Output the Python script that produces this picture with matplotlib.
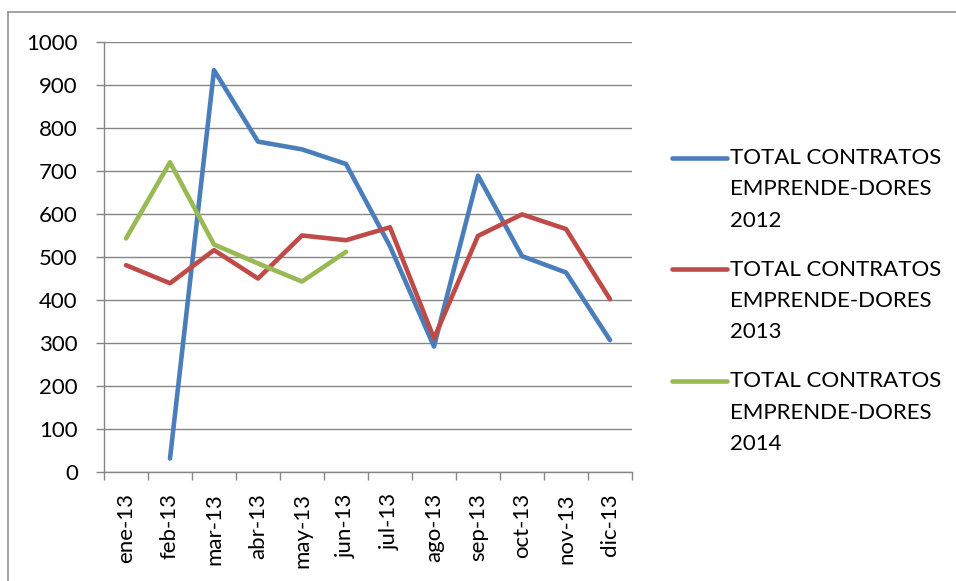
import numpy as np
import matplotlib
matplotlib.use("Agg")
import matplotlib.pyplot as plt
from matplotlib.lines import Line2D
from matplotlib.legend_handler import HandlerLine2D

plt.rcParams['font.family'] = ['Lato', 'DejaVu Sans']

# data
months = ['ene-13', 'feb-13', 'mar-13', 'abr-13', 'may-13', 'jun-13',
          'jul-13', 'ago-13', 'sep-13', 'oct-13', 'nov-13', 'dic-13']
total_2012 = [np.nan, 32, 934, 768, 750, 716, 525, 292, 689, 502, 464, 307]
total_2013 = [481, 439, 516, 450, 550, 539, 569, 311, 549, 599, 565, 402]
total_2014 = [543, 720, 529, 485, 443, 512, np.nan, np.nan, np.nan, np.nan, np.nan, np.nan]
labels = ['TOTAL CONTRATOS\nEMPRENDE-DORES\n2012',
          'TOTAL CONTRATOS\nEMPRENDE-DORES\n2013',
          'TOTAL CONTRATOS\nEMPRENDE-DORES\n2014']
colors = ['#4A7EBB', '#BE4B48', '#98B954']

grid_col = '#868686'
fs = 16


class TopRowHandler(HandlerLine2D):
    # put the legend line next to the first text row, like Excel does
    def create_artists(self, legend, orig_handle, xdescent, ydescent,
                       width, height, fontsize, trans):
        arts = super().create_artists(legend, orig_handle, xdescent, ydescent,
                                      width, height, fontsize, trans)
        for a in arts:
            a.set_ydata(np.asarray(a.get_ydata()) + 23)
        return arts


fig = plt.figure(figsize=(9.56, 5.81), dpi=100)
ax = fig.add_axes([104 / 956, 1 - 472.3 / 581, 528 / 956, 430.6 / 581])

x = np.arange(len(months))
handles = []
for ys, c, lab in zip([total_2012, total_2013, total_2014], colors, labels):
    h, = ax.plot(x, ys, color=c, lw=3.3, label=lab,
                 solid_capstyle='round', solid_joinstyle='round', zorder=3)
    handles.append(h)

ax.set_xlim(-0.5, len(months) - 0.5)
ax.set_ylim(0, 1000)
ax.set_yticks(range(0, 1001, 100))
ax.set_xticks(x)
ax.set_xticklabels(months, rotation=90)
ax.set_xticks(np.arange(-0.5, len(months)), minor=True)

ax.grid(axis='y', color=grid_col, lw=1.0, zorder=1)
for s in ['top', 'right']:
    ax.spines[s].set_visible(False)
for s in ['left', 'bottom']:
    ax.spines[s].set_color(grid_col)
    ax.spines[s].set_linewidth(1.0)

ax.tick_params(axis='y', which='major', length=5.8, width=1.0, color=grid_col,
               labelsize=fs, pad=13)
ax.tick_params(axis='x', which='major', length=0, labelsize=fs, pad=15)
ax.tick_params(axis='x', which='minor', length=5.8, width=1.0, color=grid_col)

leg = ax.legend(handles=handles, loc='center left',
                bbox_to_anchor=(672 / 956, 1 - 301 / 581),
                bbox_transform=fig.transFigure, frameon=False,
                fontsize=fs, borderpad=0, borderaxespad=0,
                handlelength=2.48, handletextpad=0.15, labelspacing=1.3,
                handler_map={Line2D: TopRowHandler()})
for t in leg.get_texts():
    t.set_linespacing(1.71)

# outer chart frame (only left and top edges show)
W, H = 956, 581
fig.add_artist(Line2D([8 / W, 8 / W], [0, 1 - 12 / H], color='#898989', lw=1.1,
                      transform=fig.transFigure))
fig.add_artist(Line2D([8 / W, 1], [1 - 12 / H, 1 - 12 / H], color='#898989', lw=1.1,
                      transform=fig.transFigure))

fig.savefig('out.png', dpi=100)
